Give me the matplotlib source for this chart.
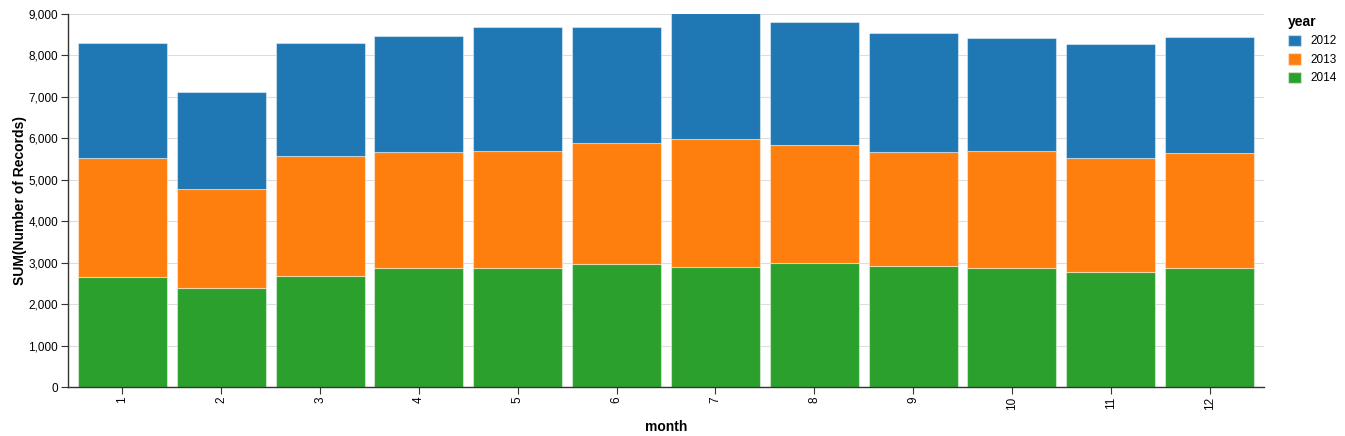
import matplotlib.pyplot as plt
from matplotlib.patches import Patch
from matplotlib.ticker import FuncFormatter
import numpy as np

plt.rcParams['font.family'] = ['Liberation Sans', 'DejaVu Sans']

months = [1, 2, 3, 4, 5, 6, 7, 8, 9, 10, 11, 12]
years = ['2012', '2013', '2014']
# stacked order from bottom: 2014, 2013, 2012
rec_2014 = [2654, 2380, 2679, 2862, 2862, 2959, 2896, 2992, 2927, 2862, 2775, 2872]
rec_2013 = [2872, 2388, 2886, 2816, 2840, 2929, 3079, 2855, 2751, 2840, 2751, 2775]
rec_2012 = [2774, 2351, 2736, 2792, 2985, 2799, 3050, 2961, 2864, 2710, 2742, 2799]

colors = {'2012': '#1f77b4', '2013': '#ff7f0e', '2014': '#2ca02c'}

fig = plt.figure(figsize=(13.45, 4.36), dpi=100)
ax = fig.add_axes([68 / 1345, 49 / 436, (1264 - 68) / 1345, (387 - 14) / 436])

x = np.arange(len(months))
bottom = np.zeros(len(months))
for yr, vals in [('2014', rec_2014), ('2013', rec_2013), ('2012', rec_2012)]:
    ax.bar(x, vals, bottom=bottom, width=0.9, color=colors[yr],
           edgecolor=(1, 1, 1, 0.45), linewidth=0.8, zorder=2)
    bottom += np.array(vals)

ax.set_xlim(-0.55, len(months) - 0.45)
ax.set_ylim(0, 9000)
ax.set_yticks(np.arange(0, 9001, 1000))
ax.yaxis.set_major_formatter(FuncFormatter(lambda v, p: f'{int(v):,}'))
ax.set_xticks(x)
ax.set_xticklabels([str(m) for m in months], rotation=90)

ax.grid(axis='y', color='#dddddd', linewidth=0.8, zorder=0)
ax.set_axisbelow(True)
for s in ['top', 'right']:
    ax.spines[s].set_visible(False)
for s in ['left', 'bottom']:
    ax.spines[s].set_color('#333333')
    ax.spines[s].set_linewidth(1)
ax.tick_params(axis='both', labelsize=8.5, length=5, width=0.8, color='#333333', pad=2)

ax.set_xlabel('month', fontsize=10, fontweight='bold', labelpad=7)
ax.set_ylabel('SUM(Number of Records)', fontsize=10, fontweight='bold', labelpad=1)

##### LEGEND #####
legend_elements = [Patch(facecolor=colors[y], edgecolor=(1, 1, 1, 0.45), label=y) for y in years]
leg = fig.legend(handles=legend_elements, title='year', loc='upper left',
                 bbox_to_anchor=(1283 / 1345, 1 - 10 / 436), frameon=False,
                 fontsize=8.5, title_fontsize=10, handlelength=1.1, handleheight=1.1,
                 handletextpad=0.8, labelspacing=0.5, borderaxespad=0, alignment='left')
leg.get_title().set_fontweight('bold')

fig.savefig('out.png', dpi=100)
